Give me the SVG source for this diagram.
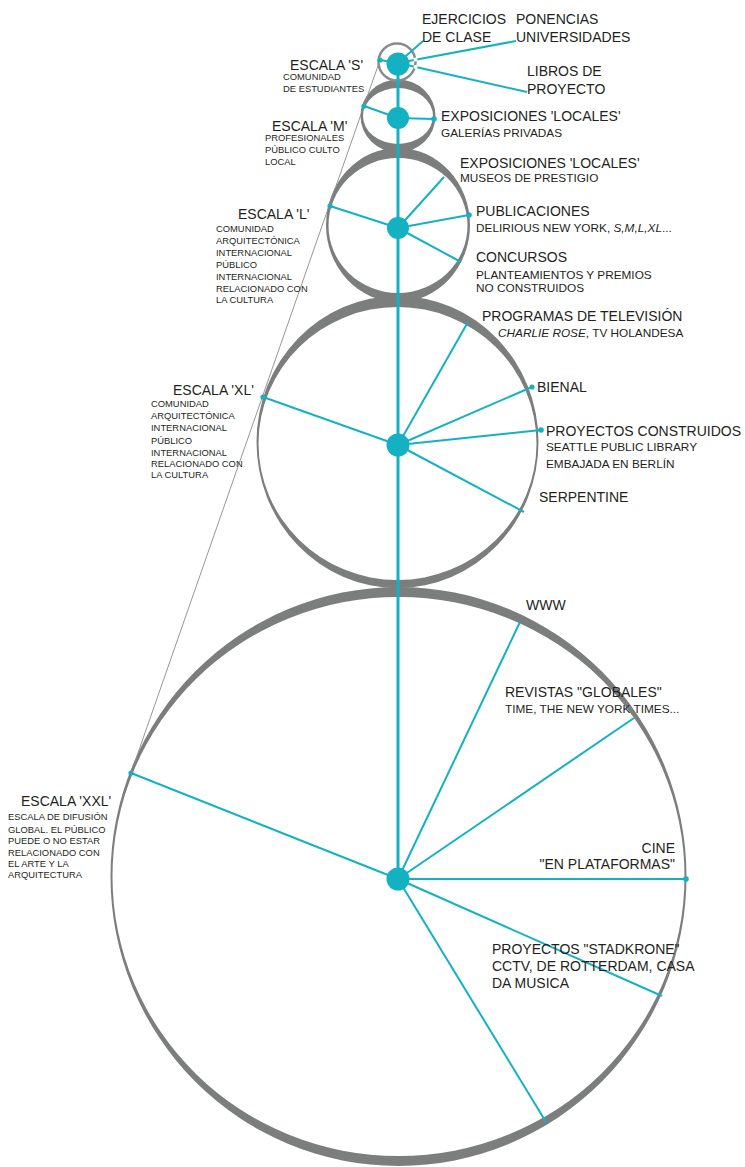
<svg xmlns="http://www.w3.org/2000/svg" width="745" height="1167" viewBox="0 0 745 1167">
<style>
text{font-family:"Liberation Sans",Arial,sans-serif;fill:#231f20}
.h{font-size:14px}
.s{font-size:11.8px}
.t{font-size:9.4px}
.ring{fill:#7c7e7e;fill-rule:evenodd}
.hub{fill:#14b1c2}
.sp{stroke:#14b1c2;stroke-width:2;fill:none}
.dot{fill:#14b1c2}
.thin{stroke:#8a8a8a;stroke-width:0.9;fill:none}
</style>
<rect width="745" height="1167" fill="#fff"/>

<!-- rings -->
<g id="ring-xxl"><path class="ring" d="M110.5,876.5 a288,289.5 0 1,0 576,0 a288,289.5 0 1,0 -576,0Z M112.5,876.5 a286,279.5 0 1,0 572,0 a286,279.5 0 1,0 -572,0Z"/></g>
<g id="ring-xl"><path class="ring" d="M256.5,442 a141,146 0 1,0 282,0 a141,146 0 1,0 -282,0Z M258.5,443.5 a139,136.5 0 1,0 278,0 a139,136.5 0 1,0 -278,0Z"/></g>
<g id="ring-l"><path class="ring" d="M326,225 a72,77 0 1,0 144,0 a72,77 0 1,0 -144,0Z M328.5,225.5 a69.5,67.5 0 1,0 139,0 a69.5,67.5 0 1,0 -139,0Z"/></g>
<g id="ring-m"><path class="ring" d="M360.5,116 a37.5,36.5 0 1,0 75,0 a37.5,36.5 0 1,0 -75,0Z M363,116 a35,28 0 1,0 70,0 a35,28 0 1,0 -70,0Z"/></g>
<g id="ring-s"><circle cx="397" cy="62" r="18.5" fill="none" stroke="#8a8c8c" stroke-width="2.5"/></g>

<!-- connectors -->
<g id="connectors">
  <line class="thin" x1="380" y1="60" x2="131" y2="773"/>
  <line x1="398" y1="63" x2="398" y2="879" stroke="#14b1c2" stroke-width="3"/>
  <!-- S -->
  <line class="sp" x1="398" y1="63" x2="423" y2="41"/>
  <line class="sp" x1="398" y1="63" x2="516" y2="41"/>
  <line class="sp" x1="398" y1="63" x2="527" y2="92"/>
  <line class="sp" x1="398" y1="63" x2="380" y2="60"/>
  <!-- M -->
  <line class="sp" x1="398" y1="118" x2="364" y2="106"/>
  <line class="sp" x1="398" y1="118" x2="434" y2="119"/>
  <!-- L -->
  <line class="sp" x1="398" y1="228" x2="330" y2="206"/>
  <line class="sp" x1="398" y1="228" x2="444" y2="177"/>
  <line class="sp" x1="398" y1="228" x2="469" y2="215"/>
  <line class="sp" x1="398" y1="228" x2="461" y2="262"/>
  <!-- XL -->
  <line class="sp" x1="398" y1="445" x2="263" y2="397"/>
  <line class="sp" x1="398" y1="445" x2="468" y2="322"/>
  <line class="sp" x1="398" y1="445" x2="532" y2="387"/>
  <line class="sp" x1="398" y1="445" x2="541" y2="430"/>
  <line class="sp" x1="398" y1="445" x2="524" y2="512"/>
  <!-- XXL -->
  <line class="sp" x1="398" y1="879" x2="131" y2="773"/>
  <line class="sp" x1="398" y1="879" x2="520" y2="622"/>
  <line class="sp" x1="398" y1="879" x2="634" y2="718"/>
  <line class="sp" x1="398" y1="879" x2="686" y2="879"/>
  <line class="sp" x1="398" y1="879" x2="662" y2="996"/>
  <line class="sp" x1="398" y1="879" x2="546" y2="1122"/>
  <!-- end dots -->
  <circle class="dot" cx="380" cy="60" r="2.6"/>
  <circle class="dot" cx="364" cy="106" r="2.6"/>
  <circle class="dot" cx="434" cy="119" r="2.8"/>
  <circle class="dot" cx="330" cy="206" r="2.6"/>
  <circle class="dot" cx="469" cy="215" r="2.8"/>
  <circle class="dot" cx="263" cy="397" r="2.6"/>
  <circle class="dot" cx="532" cy="387" r="2.6"/>
  <circle class="dot" cx="541" cy="430" r="2.8"/>
  <circle class="dot" cx="131" cy="773" r="2.6"/>
  <circle class="dot" cx="686" cy="879" r="2.8"/>
  <circle cx="415.5" cy="59.6" r="2" fill="#fff"/>
  <circle cx="415.5" cy="67" r="2" fill="#fff"/>
</g>

<!-- hubs -->
<g id="node-s"><circle class="hub" cx="398" cy="64" r="11.5"/>
  <text class="h" x="290" y="70">ESCALA 'S'</text>
  <text class="t" x="283" y="80">COMUNIDAD</text>
  <text class="t" x="283" y="92">DE ESTUDIANTES</text>
</g>
<g id="label-ejercicios"><text class="h" x="422" y="24">EJERCICIOS</text><text class="h" x="422" y="42">DE CLASE</text></g>
<g id="label-ponencias"><text class="h" x="516" y="24">PONENCIAS</text><text class="h" x="516" y="42">UNIVERSIDADES</text></g>
<g id="label-libros"><text class="h" x="527" y="76">LIBROS DE</text><text class="h" x="527" y="94">PROYECTO</text></g>

<g id="node-m"><circle class="hub" cx="398" cy="118" r="11"/>
  <text class="h" x="272" y="131">ESCALA 'M'</text>
  <text class="t" x="265" y="141">PROFESIONALES</text>
  <text class="t" x="265" y="153">PÚBLICO CULTO</text>
  <text class="t" x="265" y="165">LOCAL</text>
</g>
<g id="label-galerias"><text class="h" x="441" y="121">EXPOSICIONES 'LOCALES'</text><text class="s" x="441" y="137">GALERÍAS PRIVADAS</text></g>

<g id="node-l"><circle class="hub" cx="398" cy="228" r="11"/>
  <text class="h" x="238" y="219">ESCALA 'L'</text>
  <text class="t" x="216" y="232">COMUNIDAD</text>
  <text class="t" x="216" y="244">ARQUITECTÓNICA</text>
  <text class="t" x="216" y="256">INTERNACIONAL</text>
  <text class="t" x="216" y="268">PÚBLICO</text>
  <text class="t" x="216" y="280">INTERNACIONAL</text>
  <text class="t" x="216" y="292">RELACIONADO CON</text>
  <text class="t" x="216" y="303">LA CULTURA</text>
</g>
<g id="label-museos"><text class="h" x="460" y="168">EXPOSICIONES 'LOCALES'</text><text class="s" x="460" y="182">MUSEOS DE PRESTIGIO</text></g>
<g id="label-publicaciones"><text class="h" x="476" y="216">PUBLICACIONES</text><text class="s" x="476" y="232">DELIRIOUS NEW YORK, <tspan font-style="italic">S,M,L,XL</tspan>...</text></g>
<g id="label-concursos"><text class="h" x="476" y="262">CONCURSOS</text><text class="s" x="476" y="279">PLANTEAMIENTOS Y PREMIOS</text><text class="s" x="476" y="292">NO CONSTRUIDOS</text></g>

<g id="node-xl"><circle class="hub" cx="398" cy="445" r="11.5"/>
  <text class="h" x="173" y="395">ESCALA 'XL'</text>
  <text class="t" x="151" y="407">COMUNIDAD</text>
  <text class="t" x="151" y="419">ARQUITECTÓNICA</text>
  <text class="t" x="151" y="431">INTERNACIONAL</text>
  <text class="t" x="151" y="444">PÚBLICO</text>
  <text class="t" x="151" y="456">INTERNACIONAL</text>
  <text class="t" x="151" y="467">RELACIONADO CON</text>
  <text class="t" x="151" y="478">LA CULTURA</text>
</g>
<g id="label-tv"><text class="h" x="482" y="321">PROGRAMAS DE TELEVISIÓN</text><text class="s" x="498" y="337"><tspan font-style="italic">CHARLIE ROSE</tspan>, TV HOLANDESA</text></g>
<g id="label-bienal"><text class="h" x="537" y="392">BIENAL</text></g>
<g id="label-construidos"><text class="h" x="546" y="436">PROYECTOS CONSTRUIDOS</text><text class="s" x="546" y="451">SEATTLE PUBLIC LIBRARY</text><text class="s" x="546" y="468">EMBAJADA EN BERLÍN</text></g>
<g id="label-serpentine"><text class="h" x="539" y="502">SERPENTINE</text></g>

<g id="node-xxl"><circle class="hub" cx="398" cy="879" r="11.5"/>
  <text class="h" x="21" y="806">ESCALA 'XXL'</text>
  <text class="t" x="8" y="820">ESCALA DE DIFUSIÓN</text>
  <text class="t" x="8" y="833">GLOBAL. EL PÚBLICO</text>
  <text class="t" x="8" y="844">PUEDE O NO ESTAR</text>
  <text class="t" x="8" y="856">RELACIONADO CON</text>
  <text class="t" x="8" y="867">EL ARTE Y LA</text>
  <text class="t" x="8" y="878">ARQUITECTURA</text>
</g>
<g id="label-www"><text class="h" x="526" y="610">WWW</text></g>
<g id="label-revistas"><text class="h" x="505" y="697">REVISTAS "GLOBALES"</text><text class="s" x="505" y="713">TIME, THE NEW YORK TIMES...</text></g>
<g id="label-cine"><text class="h" x="675" y="853" text-anchor="end">CINE</text><text class="h" x="675" y="869" text-anchor="end">"EN PLATAFORMAS"</text></g>
<g id="label-stadkrone"><text class="h" x="492" y="954">PROYECTOS "STADKRONE"</text><text class="h" x="492" y="971">CCTV, DE ROTTERDAM, CASA</text><text class="h" x="492" y="988">DA MUSICA</text></g>
</svg>
